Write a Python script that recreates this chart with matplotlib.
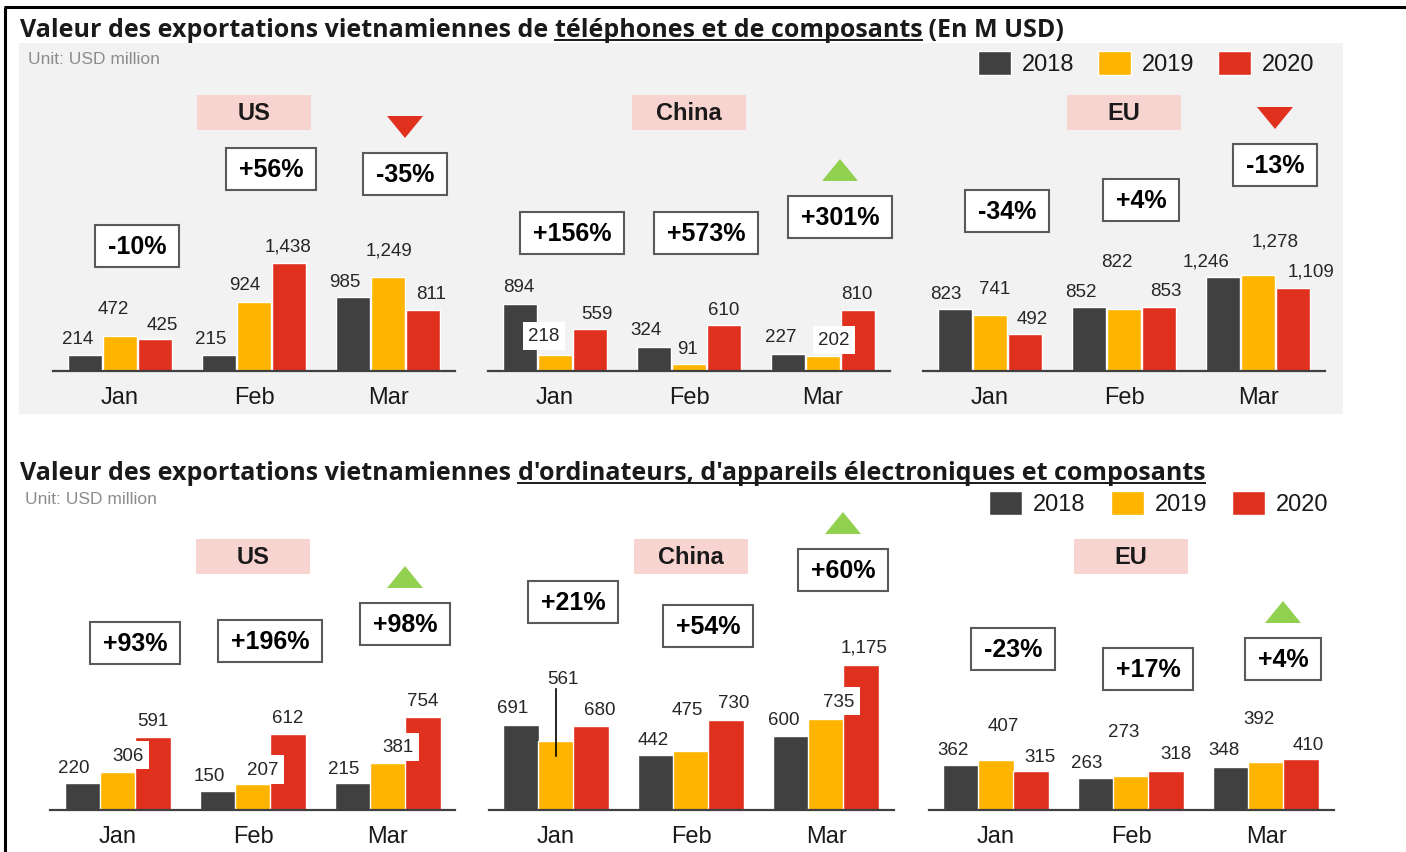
import matplotlib.pyplot as plt
from matplotlib.patches import Rectangle, Polygon

W, H = 1406, 853

months = ["Jan", "Feb", "Mar"]
years = ["2018", "2019", "2020"]
regions = ["US", "China", "EU"]
year_colors = ["#404040", "#FFB400", "#E0301E"]

# téléphones et composants : lignes = 2018 / 2019 / 2020, colonnes = Jan / Feb / Mar
phone_us = [[214, 215, 985], [472, 924, 1249], [425, 1438, 811]]
phone_china = [[894, 324, 227], [218, 91, 202], [559, 610, 810]]
phone_eu = [[823, 852, 1246], [741, 822, 1278], [492, 853, 1109]]
phone_us_pct = ["-10%", "+56%", "-35%"]
phone_china_pct = ["+156%", "+573%", "+301%"]
phone_eu_pct = ["-34%", "+4%", "-13%"]
phone_arrows = ["down", "up", "down"]

# ordinateurs, appareils électroniques et composants
comp_us = [[220, 150, 215], [306, 207, 381], [591, 612, 754]]
comp_china = [[691, 442, 600], [561, 475, 735], [680, 730, 1175]]
comp_eu = [[362, 263, 348], [407, 273, 392], [315, 318, 410]]
comp_us_pct = ["+93%", "+196%", "+98%"]
comp_china_pct = ["+21%", "+54%", "+60%"]
comp_eu_pct = ["-23%", "+17%", "+4%"]
comp_arrows = ["up", "up", "up"]

# position des étiquettes (dx, dy en pixels depuis le haut de la barre)
top_offsets = [
    [[(-7, 16), (-8, 16), (-8, 16)], [(-7, 27), (-9, 17), (1, 27)], [(7, 15), (-1, 17), (8, 17)]],
    [[(-1, 17), (-8, 17), (-7, 17)], [(-11, 19), (-1, 16), (11, 16)], [(7, 16), (0, 16), (-1, 17)]],
    [[(-9, 16), (-8, 16), (-17, 16)], [(5, 27), (-7, 48), (17, 34)], [(7, 16), (7, 16), (18, 17)]],
]
bottom_offsets = [
    [[(-9, 15), (-9, 16), (-9, 15)], [(10, 17), (10, 15), (10, 16)], [(0, 17), (0, 17), (0, 16)]],
    [[(-8, 17), (-3, 16), (-7, 16)], [(7, 62), (-4, 42), (13, 18)], [(9, 17), (8, 17), (3, 18)]],
    [[(-8, 16), (-9, 15), (-7, 18)], [(7, 34), (-7, 45), (-7, 43)], [(9, 15), (10, 17), (7, 15)]],
]
# étiquettes sur fond blanc : (région, année, mois)
top_white = [(1, 1, 0), (1, 1, 2)]
bottom_white = [(0, 1, 0), (0, 1, 1), (0, 1, 2), (1, 1, 2)]

panels = [
    dict(data=[phone_us, phone_china, phone_eu],
         pct=[phone_us_pct, phone_china_pct, phone_eu_pct], arrows=phone_arrows,
         base=372, scale=0.0751, top=80, jan=[120, 555, 990], step=134,
         offsets=top_offsets, white=top_white, leader=[],
         pct_y=[[247, 170, 175], [234, 234, 218], [212, 201, 166]],
         region_y=113, legend_y=64, legend_x=[978, 1098, 1218], unit=(28, 59),
         title_y=37,
         title=[("Valeur des exportations vietnamiennes de ", False),
                ("téléphones et de composants", True), (" (En M USD)", False)]),
    dict(data=[comp_us, comp_china, comp_eu],
         pct=[comp_us_pct, comp_china_pct, comp_eu_pct], arrows=comp_arrows,
         base=811, scale=0.1235, top=520, jan=[118, 556, 996], step=135,
         offsets=bottom_offsets, white=bottom_white, leader=[(1, 1, 0)],
         pct_y=[[644, 642, 625], [603, 627, 571], [650, 670, 660]],
         region_y=557, legend_y=504, legend_x=[989, 1111, 1232], unit=(25, 499),
         title_y=480,
         title=[("Valeur des exportations vietnamiennes ", False),
                ("d'ordinateurs, d'appareils électroniques et composants", True)]),
]

plt.rcParams["font.family"] = ["Liberation Sans", "DejaVu Sans"]

fig = plt.figure(figsize=(W / 100, H / 100), dpi=100)

bg = fig.add_axes([0, 0, 1, 1], zorder=0)
bg.set_xlim(0, W)
bg.set_ylim(H, 0)
bg.axis("off")
bg.add_patch(Rectangle((19, 44), 1324, 371, fc="#F2F2F2", ec="none"))
bg.plot([4, W], [8, 8], color="black", lw=2.2, solid_capstyle="butt")
bg.plot([5, 5], [8, H], color="black", lw=2.2, solid_capstyle="butt")

ov = fig.add_axes([0, 0, 1, 1], zorder=3)
ov.set_xlim(0, W)
ov.set_ylim(H, 0)
ov.axis("off")

renderer = fig.canvas.get_renderer()
bar_w = 0.26

for p in panels:
    off = 35 / p["step"]
    for r in range(3):
        cx0 = p["jan"][r]
        left = cx0 - p["step"] / 2
        hpx = p["base"] - p["top"]
        ax = fig.add_axes([left / W, 1 - p["base"] / H, 3 * p["step"] / W, hpx / H], zorder=1)
        ax.set_facecolor("none")
        ax.set_xlim(-0.5, 2.5)
        ax.set_ylim(0, hpx / p["scale"])
        for s in ["top", "right", "left"]:
            ax.spines[s].set_visible(False)
        ax.spines["bottom"].set_color("#404040")
        ax.spines["bottom"].set_linewidth(1.6)
        ax.set_yticks([])
        ax.set_xticks(range(3), months)
        ax.tick_params(axis="x", length=0, pad=11, labelsize=17, labelcolor="#1a1a1a")

        vals = p["data"][r]
        for j in range(3):
            xs = [m + (j - 1) * off for m in range(3)]
            ax.bar(xs, vals[j], width=bar_w, color=year_colors[j], edgecolor="white", linewidth=1)
            for m in range(3):
                dx, dy = p["offsets"][r][j][m]
                box = None
                if (r, j, m) in p["white"]:
                    box = dict(boxstyle="square,pad=0.3", fc="white", ec="none")
                ax.annotate(f"{vals[j][m]:,}", xy=(xs[m], vals[j][m]), xytext=(dx, dy),
                            textcoords="offset pixels", ha="center", va="center",
                            fontsize=13.5, color="#262626", bbox=box, zorder=5)
                if (r, j, m) in p["leader"]:
                    ax.plot([xs[m], xs[m]],
                            [vals[j][m] - 15 / p["scale"], vals[j][m] + (dy - 10) / p["scale"]],
                            color="black", lw=1.2, zorder=6)

        # boîtes de variation
        for m in range(3):
            bx = cx0 + m * p["step"] + 17
            by = p["pct_y"][r][m]
            t = ov.text(bx, by, p["pct"][r][m], ha="center", va="center", fontsize=18,
                        fontweight="bold", color="black", zorder=5)
            bb = t.get_window_extent(renderer)
            tw = bb.width
            ov.add_patch(Rectangle((bx - tw / 2 - 13, by - 21), tw + 26, 42,
                                   fc="white", ec="#5a5a5a", lw=1.5, zorder=4))

        # flèche de tendance
        tx = cx0 + 2 * p["step"] + 17
        ty = p["pct_y"][r][2] - 47
        if p["arrows"][r] == "down":
            tri = [(tx - 18, ty - 11), (tx + 18, ty - 11), (tx, ty + 11)]
            tc = "#E0301E"
        else:
            tri = [(tx - 18, ty + 11), (tx + 18, ty + 11), (tx, ty - 11)]
            tc = "#92D050"
        ov.add_patch(Polygon(tri, closed=True, fc=tc, ec="none"))

        # étiquette de région
        fx = cx0 + p["step"]
        ov.add_patch(Rectangle((fx - 57, p["region_y"] - 17.5), 114, 35, fc="#F8D4D1", ec="none"))
        ov.text(fx, p["region_y"], regions[r], ha="center", va="center", fontsize=17,
                fontweight="bold", color="#1a1a1a")

    # légende
    for j in range(3):
        lx = p["legend_x"][j]
        ov.add_patch(Rectangle((lx, p["legend_y"] - 12), 33, 24, fc=year_colors[j], ec="white", lw=1))
        ov.text(lx + 44, p["legend_y"] + 1, years[j], ha="left", va="center", fontsize=17, color="#1a1a1a")

    ov.text(p["unit"][0], p["unit"][1], "Unit: USD million", ha="left", va="center",
            fontsize=12.5, color="#8c8c8c")

    # titre avec soulignement
    x = 20
    for txt, under in p["title"]:
        t = ov.text(x, p["title_y"], txt, ha="left", va="baseline", fontsize=18,
                    fontweight="bold", family=["Open Sans", "DejaVu Sans"], color="#1a1a1a")
        bb = t.get_window_extent(renderer)
        (x0, _), (x1, _) = ov.transData.inverted().transform([[bb.x0, 0], [bb.x1, 0]])
        if under:
            ov.plot([x0, x1], [p["title_y"] + 4, p["title_y"] + 4], color="#1a1a1a", lw=1.4)
        x = x1

fig.savefig("out.png", dpi=100)
